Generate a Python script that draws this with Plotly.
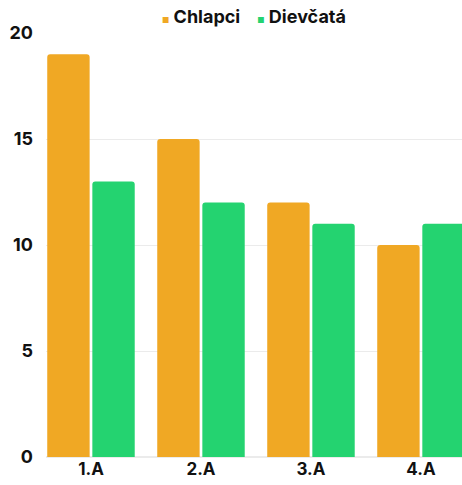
import plotly.graph_objects as go

categories = ["1.A", "2.A", "3.A", "4.A"]
chlapci = [19, 15, 12, 10]
dievcata = [13, 12, 11, 11]
series_names = ["Chlapci", "Dievčatá"]
colors = ["#F0A824", "#24D370"]
y_ticks = [0, 5, 10, 15, 20]

fig = go.Figure()
for name, vals, col in zip(series_names, [chlapci, dievcata], colors):
    fig.add_trace(go.Bar(x=categories, y=vals, name=name,
                         marker=dict(color=col, cornerradius=3, line=dict(width=0)),
                         showlegend=False))

legend_text = "&nbsp;&nbsp;&nbsp;&nbsp;".join(
    f"<span style='color:{c};font-size:8px'>■</span> {n}" for n, c in zip(series_names, colors)
)
fig.add_annotation(text=legend_text, xref="paper", yref="paper", x=0.5, y=1.0,
                   xanchor="center", yanchor="bottom", yshift=4, showarrow=False,
                   font=dict(family="Inter", size=18, color="#111111", weight="bold"))

fig.update_layout(
    width=462, height=485,
    margin=dict(l=46, r=0, t=33, b=28, autoexpand=False),
    paper_bgcolor="white", plot_bgcolor="white",
    font=dict(family="Inter", size=18, color="#111111", weight="bold"),
    barmode="group", bargap=0.18, bargroupgap=0.06,
    showlegend=False,
    xaxis=dict(range=[-0.409, 3.373], showgrid=False, showline=False, zeroline=False,
               automargin=False, tickfont=dict(size=17, weight="bold")),
    yaxis=dict(range=[0, 20], tickvals=y_ticks, showgrid=True, gridcolor="#EBEBEB", gridwidth=1,
               zeroline=True, zerolinecolor="#EBEBEB", showline=False, automargin=False,
               ticklabelstandoff=12, tickfont=dict(size=18, weight="bold")),
)
fig.write_html("out.html", config={"displayModeBar": False},
               post_script="document.body.style.margin='0';document.body.style.overflow='hidden';")
